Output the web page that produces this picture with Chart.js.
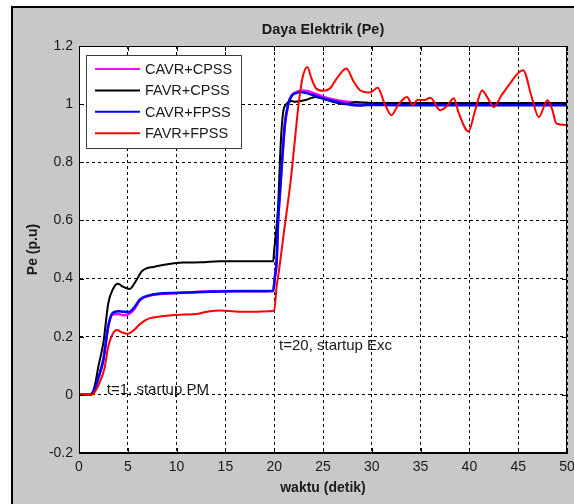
<!DOCTYPE html>
<html>
<head>
<meta charset="utf-8">
<script src="https://cdn.jsdelivr.net/npm/chart.js@4/dist/chart.umd.min.js"></script>
<style>
  body { margin: 0; background: #fff; }
  canvas { display: block; }
</style>
</head>
<body>
<canvas id="myChart" width="574" height="504"></canvas>
<script>
const ctx = document.getElementById("myChart").getContext("2d");

// tick values / labels
const xTicks = [0, 5, 10, 15, 20, 25, 30, 35, 40, 45, 50];
const yTicks = [-0.2, 0, 0.2, 0.4, 0.6, 0.8, 1, 1.2];
const yTickLabels = ["-0.2", "0", "0.2", "0.4", "0.6", "0.8", "1", "1.2"];

// CAVR+CPSS (magenta)
const tCavrCpss = [0, 1.1, 1.6, 2.0, 2.5, 3.0, 3.4, 4.0, 4.6, 5.1, 5.6, 6.25, 7.3, 9.3, 11, 13.4, 16, 19.9, 20.05, 20.25, 20.4, 20.6, 20.8, 21.1, 21.45, 21.8, 22.3, 22.8, 23.4, 24.2, 25.0, 25.8, 26.7, 27.5, 28.5, 29.5, 31, 35, 40, 45, 50];
const pCavrCpss = [0, 0, 0.02, 0.06, 0.125, 0.24, 0.275, 0.278, 0.274, 0.278, 0.292, 0.326, 0.342, 0.349, 0.352, 0.356, 0.357, 0.358, 0.40, 0.46, 0.60, 0.70, 0.80, 0.93, 1.0, 1.03, 1.042, 1.047, 1.045, 1.036, 1.026, 1.018, 1.012, 1.008, 1.004, 1.0, 0.998, 0.998, 0.998, 0.998, 0.998];

// FAVR+CPSS (black)
const tFavrCpss = [0, 1.2, 1.6, 2.0, 2.5, 3.0, 3.5, 4.0, 4.5, 5.2, 5.8, 6.4, 6.9, 7.6, 8.6, 10.7, 12.5, 14.4, 19.9, 20.0, 20.1, 20.4, 20.65, 20.9, 21.25, 21.8, 22.1, 23.2, 24.2, 25.4, 26.4, 27.4, 28.4, 30, 35, 40, 45, 50];
const pFavrCpss = [0, 0, 0.03, 0.1, 0.18, 0.315, 0.365, 0.382, 0.372, 0.364, 0.39, 0.424, 0.435, 0.44, 0.447, 0.455, 0.456, 0.46, 0.46, 0.50, 0.53, 0.647, 0.853, 0.968, 1.0, 1.011, 1.008, 1.014, 1.025, 1.014, 1.005, 1.0, 1.007, 1.004, 1.004, 1.004, 1.004, 1.004];

// CAVR+FPSS (blue)
const tCavrFpss = [0, 1.1, 1.6, 2.0, 2.5, 3.0, 3.4, 4.0, 4.6, 5.1, 5.6, 6.25, 7.3, 9.3, 11, 13.4, 16, 19.9, 20.05, 20.25, 20.4, 20.6, 20.8, 21.1, 21.45, 21.8, 22.3, 22.7, 23.3, 24.0, 25.0, 25.7, 26.7, 27.5, 28.2, 28.8, 29.5, 31, 35, 40, 45, 50];
const pCavrFpss = [0, 0, 0.02, 0.06, 0.12, 0.235, 0.28, 0.288, 0.286, 0.285, 0.298, 0.328, 0.343, 0.35, 0.352, 0.355, 0.356, 0.357, 0.40, 0.46, 0.60, 0.70, 0.80, 0.934, 1.002, 1.03, 1.039, 1.042, 1.038, 1.031, 1.02, 1.014, 1.006, 1.0, 0.996, 0.995, 0.997, 0.997, 0.996, 0.996, 0.996, 0.996];

// FAVR+FPSS (red)
const tFavrFpss = [0, 1.3, 1.8, 2.2, 2.6, 3.0, 3.4, 3.9, 4.4, 5.0, 5.6, 6.3, 7.2, 8.5, 9.9, 12, 13, 14.5, 16, 18, 19.5, 20.0, 20.25, 20.5, 21.0, 21.7, 22.1, 22.5, 22.9, 23.4, 23.8, 24.3, 25.0, 25.7, 26.4, 27.4, 28.1, 28.8, 29.8, 30.6, 31.3, 32.0, 32.7, 33.6, 34.2, 34.7, 35.4, 36.0, 37.0, 37.7, 38.4, 38.9, 39.9, 40.6, 41.3, 41.9, 42.5, 43.3, 44.3, 44.8, 45.5, 46.4, 47.1, 48.0, 48.5, 48.9, 50];
const pFavrFpss = [0, 0, 0.02, 0.05, 0.09, 0.166, 0.206, 0.223, 0.215, 0.21, 0.222, 0.245, 0.263, 0.27, 0.275, 0.278, 0.285, 0.29, 0.287, 0.286, 0.288, 0.29, 0.372, 0.43, 0.56, 0.74, 0.87, 1.0, 1.09, 1.128, 1.09, 1.054, 1.046, 1.054, 1.088, 1.123, 1.08, 1.048, 1.04, 1.056, 1.003, 0.962, 0.997, 1.025, 0.997, 1.015, 1.014, 1.022, 0.979, 0.994, 1.02, 0.97, 0.906, 0.98, 1.047, 1.02, 0.99, 1.031, 1.077, 1.1, 1.117, 1.022, 0.955, 1.013, 0.98, 0.934, 0.928];

function toPoints(ts, vs) {
  return ts.map((t, i) => ({ x: t, y: vs[i] }));
}

const FONT = "'Liberation Sans', Arial, sans-serif";
const TEXT_COLOR = "#1a1a1a";

// fondo gris, marco y area blanca
const bgPlugin = {
  id: "bg",
  beforeDraw(chart) {
    const c = chart.ctx;
    const a = chart.chartArea;
    c.save();
    c.fillStyle = "#ffffff";
    c.fillRect(0, 0, chart.width, chart.height);
    c.fillStyle = "#c8c8c8";
    c.fillRect(12, 7, chart.width - 12, chart.height - 7);
    c.fillStyle = "#000";
    c.fillRect(11, 6, 2, chart.height - 6);
    c.fillRect(11, 6, chart.width - 11, 2);
    c.fillStyle = "#ffffff";
    c.fillRect(a.left, a.top, a.right - a.left, a.bottom - a.top);
    // titulo centrado sobre el area del grafico
    c.fillStyle = TEXT_COLOR;
    c.font = "bold 14.5px " + FONT;
    c.textAlign = "center";
    c.textBaseline = "middle";
    c.fillText("Daya Elektrik (Pe)", (a.left + a.right) / 2, 30);
    c.restore();
  },
};

// caja, ticks hacia adentro, textos y leyenda
const boxPlugin = {
  id: "box",
  afterDraw(chart) {
    const c = chart.ctx;
    const a = chart.chartArea;
    const xs = chart.scales.x;
    const ys = chart.scales.y;
    c.save();
    c.strokeStyle = "#000";
    c.lineWidth = 1;
    c.setLineDash([]);
    c.strokeRect(Math.round(a.left) + 0.5, Math.round(a.top) + 0.5, Math.round(a.right - a.left) - 1, Math.round(a.bottom - a.top) - 1);
    c.beginPath();
    xTicks.forEach((t) => {
      const px = Math.round(xs.getPixelForValue(t)) + 0.5;
      c.moveTo(px, a.bottom); c.lineTo(px, a.bottom - 5);
      c.moveTo(px, a.top); c.lineTo(px, a.top + 5);
    });
    yTicks.forEach((v) => {
      const py = Math.round(ys.getPixelForValue(v)) + 0.5;
      c.moveTo(a.left, py); c.lineTo(a.left + 5, py);
      c.moveTo(a.right, py); c.lineTo(a.right - 5, py);
    });
    c.stroke();

    // textos
    c.fillStyle = TEXT_COLOR;
    c.font = "15px " + FONT;
    c.textAlign = "left";
    c.textBaseline = "middle";
    c.fillText("t=1, startup PM", xs.getPixelForValue(2.85), ys.getPixelForValue(0.017));
    c.fillText("t=20, startup Exc", xs.getPixelForValue(20.5), ys.getPixelForValue(0.17));

    // leyenda
    const lx = a.left + 7.5, ly = a.top + 9.5, lw = 155, lh = 93;
    c.fillStyle = "#fff";
    c.fillRect(lx, ly, lw, lh);
    c.strokeStyle = "#3c3c3c";
    c.strokeRect(lx, ly, lw, lh);
    c.font = "14.5px " + FONT;
    chart.data.datasets.forEach((ds, i) => {
      const ry = ly + 13.5 + i * 21.4;
      c.strokeStyle = ds.borderColor;
      c.lineWidth = 2;
      c.beginPath();
      c.moveTo(lx + 8.5, ry);
      c.lineTo(lx + 53.5, ry);
      c.stroke();
      c.fillStyle = TEXT_COLOR;
      c.fillText(ds.label, lx + 58.5, ry + 1);
    });
    c.restore();
  },
};

const myChart = new Chart(ctx, {
  type: "line",
  data: {
    datasets: [
      { label: "CAVR+CPSS", data: toPoints(tCavrCpss, pCavrCpss), borderColor: "#ff00ff", borderWidth: 2.5, order: 3 },
      { label: "FAVR+CPSS", data: toPoints(tFavrCpss, pFavrCpss), borderColor: "#000000", borderWidth: 2, order: 2 },
      { label: "CAVR+FPSS", data: toPoints(tCavrFpss, pCavrFpss), borderColor: "#0000ff", borderWidth: 2.5, order: 1 },
      { label: "FAVR+FPSS", data: toPoints(tFavrFpss, pFavrFpss), borderColor: "#ff0000", borderWidth: 2, order: 0 },
    ],
  },
  options: {
    responsive: false,
    animation: false,
    layout: { padding: { left: 0, right: 7, top: 46, bottom: 0 } },
    elements: {
      point: { radius: 0 },
      line: { cubicInterpolationMode: "monotone", fill: false },
    },
    plugins: {
      legend: { display: false },
      tooltip: { enabled: false },
      title: { display: false },
    },
    scales: {
      x: {
        type: "linear",
        min: 0,
        max: 50,
        afterBuildTicks: (scale) => { scale.ticks = xTicks.map((v) => ({ value: v })); },
        afterFit: (scale) => { scale.height = 51; scale.paddingLeft = 0; scale.paddingRight = 0; },
        ticks: {
          color: TEXT_COLOR,
          font: { family: FONT, size: 14 },
          padding: 6,
          maxRotation: 0,
          callback: (v) => String(v),
        },
        grid: { color: "#000", lineWidth: 1, drawTicks: false },
        border: { display: true, color: "#000", width: 1, dash: [3, 3] },
        title: {
          display: true,
          text: "waktu (detik)",
          color: TEXT_COLOR,
          font: { family: FONT, size: 14, weight: "bold" },
          padding: { top: 0, bottom: 7.6 },
        },
      },
      y: {
        type: "linear",
        min: -0.2,
        max: 1.2,
        afterBuildTicks: (scale) => { scale.ticks = yTicks.map((v) => ({ value: v })); },
        afterFit: (scale) => { scale.width = 79; scale.paddingTop = 0; scale.paddingBottom = 0; },
        ticks: {
          color: TEXT_COLOR,
          font: { family: FONT, size: 14 },
          padding: 6,
          callback: (v) => yTickLabels[yTicks.findIndex((t) => Math.abs(t - v) < 1e-9)],
        },
        grid: { color: "#000", lineWidth: 1, drawTicks: false },
        border: { display: true, color: "#000", width: 1, dash: [3, 3] },
        title: {
          display: true,
          text: "Pe (p.u)",
          color: TEXT_COLOR,
          font: { family: FONT, size: 14, weight: "bold" },
          padding: { top: 24.6, bottom: 0 },
        },
      },
    },
  },
  plugins: [bgPlugin, boxPlugin],
});
</script>
</body>
</html>
